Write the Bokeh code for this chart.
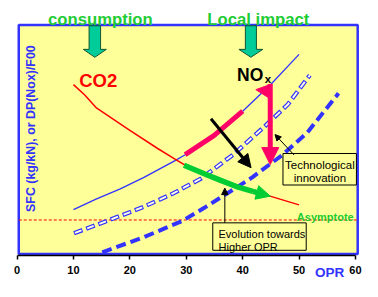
import numpy as np
from bokeh.plotting import figure
from bokeh.models import Range1d, FixedTicker, Arrow, NormalHead
from bokeh.core.properties import value
from bokeh.embed import file_html
from bokeh.resources import INLINE

# ---- data (OPR vs. SFC / NOx level, arbitrary units 0..100) ----
co2_opr = [10, 12, 14, 20, 25, 28, 30, 33, 36, 39, 42, 45, 50]
co2_sfc = [74, 69.5, 64, 54, 46, 41.5, 38.5, 35, 32, 29.5, 27.3, 25.2, 21.5]

nox_opr = [10, 14, 18.3, 22.5, 28.1, 29.8, 34.9, 40.0, 45.1, 50.0]
nox_val = [19.4, 24.0, 28.5, 33.5, 40.9, 43.4, 51.7, 62.4, 74.4, 87.2]

tech1_opr = [10.1, 16, 22.5, 27.6, 32.7, 38.3, 44.1, 48.0, 51.9]
tech1_val = [9.1, 14.5, 20.7, 26.4, 33.1, 43.4, 56.2, 65.3, 78.1]

tech2_opr = [15.1, 22.5, 29.3, 33.2, 38.3, 41.7, 47.1, 51.4, 57.0]
tech2_val = [0.8, 7.4, 14.5, 20.2, 28.1, 33.5, 43.4, 52.9, 70.2]

asymptote = 14.9

magenta_opr = [29.8, 34.9, 40.0]
magenta_val = [43.4, 51.7, 62.4]

green_opr = [29.6, 33.3, 36.1, 38.9, 41.8]
green_val = [38.8, 35.0, 32.2, 29.5, 27.4]
green_tip = (44.9, 25.3)

x_ticks = [0, 10, 20, 30, 40, 50, 60]

FONT = value("Liberation Sans")
BLUE = "#3333ff"
RED = "#ff0000"
MAG = "#ff0066"
GREEN = "#00cc33"
TEAL = "#00cc99"
YELLOW = "#ffff99"

p = figure(width=362, height=281, output_backend="svg", toolbar_location=None,
           x_range=Range1d(-2.938, 61.25), y_range=Range1d(-11.97, 110.74),
           y_axis_location=None, min_border_left=0, min_border_right=0,
           min_border_top=0, min_border_bottom=0)
p.grid.visible = False
p.outline_line_color = None
p.background_fill_color = "white"
p.border_fill_color = "white"

ax = p.xaxis[0]
ax.fixed_location = -0.8
ax.bounds = (0, 60)
ax.ticker = FixedTicker(ticks=x_ticks)
ax.minor_tick_line_color = None
ax.axis_line_width = 1.5
ax.axis_line_color = "black"
ax.major_tick_line_width = 1.5
ax.major_tick_in = 0
ax.major_tick_out = 4
ax.major_label_standoff = 6
ax.major_label_text_font = "Liberation Sans"
ax.major_label_text_font_style = "bold"
ax.major_label_text_font_size = "11px"
ax.major_label_text_color = "black"

# yellow panel
p.quad(left=[0.3], right=[60.4], bottom=[0], top=[100], fill_color=YELLOW,
       line_color=BLUE, line_width=2.5)

# asymptote
p.line([0.3, 60.4], [asymptote, asymptote], line_color=RED, line_width=1, line_dash="3 2")

# NOx curves
p.line(nox_opr, nox_val, line_color=BLUE, line_width=1.3)
p.line(tech1_opr, tech1_val, line_color=BLUE, line_width=4.3, line_dash="9 4")
p.line(tech1_opr, tech1_val, line_color="#fdfde8", line_width=1.9, line_dash="7 6",
       line_dash_offset=-1)
p.line(tech2_opr, tech2_val, line_color=BLUE, line_width=4, line_dash="10 5")

# CO2 curve
p.line(co2_opr, co2_sfc, line_color=RED, line_width=1.5)

# magenta segment on NOx curve
p.line(magenta_opr, magenta_val, line_color=MAG, line_width=5)

# green path with arrow
p.line(green_opr, green_val, line_color=GREEN, line_width=5.5)
p.add_layout(Arrow(x_start=green_opr[-1], y_start=green_val[-1], x_end=green_tip[0],
                   y_end=green_tip[1], line_color=GREEN, line_width=5.5,
                   end=NormalHead(size=14, fill_color=GREEN, line_color=GREEN)))

# black arrow
p.add_layout(Arrow(x_start=34.38, y_start=59.09, x_end=41.49, y_end=37.73,
                   line_color="black", line_width=3,
                   end=NormalHead(size=13, fill_color="black", line_color="black")))

# magenta vertical arrow
p.patch([42.34, 45.16, 44.6], [71.8, 74.3, 68.3], fill_color=MAG, line_color=MAG)
p.add_layout(Arrow(x_start=44.89, y_start=74.3, x_end=44.89, y_end=39.1,
                   line_color=MAG, line_width=5,
                   end=NormalHead(size=17, fill_color=MAG, line_color=MAG)))

# teal block arrows at top
def block_arrow(cx, shaft_hw, head_hw, top=99.7, base=89.4, tip=85.95):
    xs = [cx - shaft_hw, cx + shaft_hw, cx + shaft_hw, cx + head_hw, cx,
          cx - head_hw, cx - shaft_hw]
    ys = [top, top, base, base, tip, base, base]
    return xs, ys

for cx, shw, hhw in [(13.79, 1.02, 2.04), (41.46, 0.98, 2.12)]:
    xs, ys = block_arrow(cx, shw, hhw)
    p.patch(xs, ys, fill_color=TEAL, line_color="#115533", line_width=1)

# annotation boxes
p.quad(left=[47.15, 34.7], right=[60.17, 51.27], bottom=[30.17, 1.65], top=[43.93, 13.64],
       fill_color=None, line_color="black", line_width=1)
p.add_layout(Arrow(x_start=49.13, y_start=43.26, x_end=45.74, y_end=52.19,
                   line_color="black", line_width=1,
                   end=NormalHead(size=6, fill_color="black", line_color="black")))
p.add_layout(Arrow(x_start=36.84, y_start=13.64, x_end=36.84, y_end=28.8,
                   line_color="black", line_width=1,
                   end=NormalHead(size=6.5, fill_color="black", line_color="black")))

p.text(x=[53.7, 53.7], y=[38.8, 33.3], text=["Technological", "innovation"],
       text_font=FONT, text_font_size="11.5px", text_color="black",
       text_align="center", text_baseline="alphabetic")
p.text(x=[35.72, 35.72], y=[8.8, 3.0], text=["Evolution towards", "Higher OPR"],
       text_font=FONT, text_font_size="11px", text_color="black",
       text_align="left", text_baseline="alphabetic")

# titles
p.text(x=[14.77, 42.78], y=[102.5, 102.3], text=["consumption", "Local impact"],
       text_font=FONT, text_font_size="16.7px", text_font_style="bold",
       text_color="#22cc33", text_align="center", text_baseline="alphabetic")
p.text(x=[14.4], y=[75.8], text=["CO2"], text_font=FONT, text_font_size="18.5px",
       text_font_style="bold", text_color=RED, text_align="center",
       text_baseline="alphabetic")
p.text(x=[39.0], y=[78.1], text=["NO"], text_font=FONT, text_font_size="17.5px",
       text_font_style="bold", text_color="black", text_align="left",
       text_baseline="alphabetic")
p.text(x=[43.9], y=[76.3], text=["x"], text_font=FONT, text_font_size="11.5px",
       text_font_style="bold", text_color="black", text_align="left",
       text_baseline="alphabetic")
p.text(x=[54.65], y=[16.4], text=["Asymptote"], text_font=FONT, text_font_size="11px",
       text_font_style="bold", text_color="#22cc33", text_align="center",
       text_baseline="alphabetic")
p.text(x=[2.41], y=[54.8], text=["SFC (kg/kN), or DP(Nox)/F00"], angle=np.pi / 2,
       text_font=FONT, text_font_size="12.4px", text_font_style="bold",
       text_color=BLUE, text_align="center", text_baseline="middle")
p.text(x=[55.43], y=[-8.25], text=["OPR"], text_font=FONT, text_font_size="13.5px",
       text_font_style="bold", text_color=BLUE, text_align="center",
       text_baseline="middle")

open("out.html", "w").write(file_html(p, INLINE))
